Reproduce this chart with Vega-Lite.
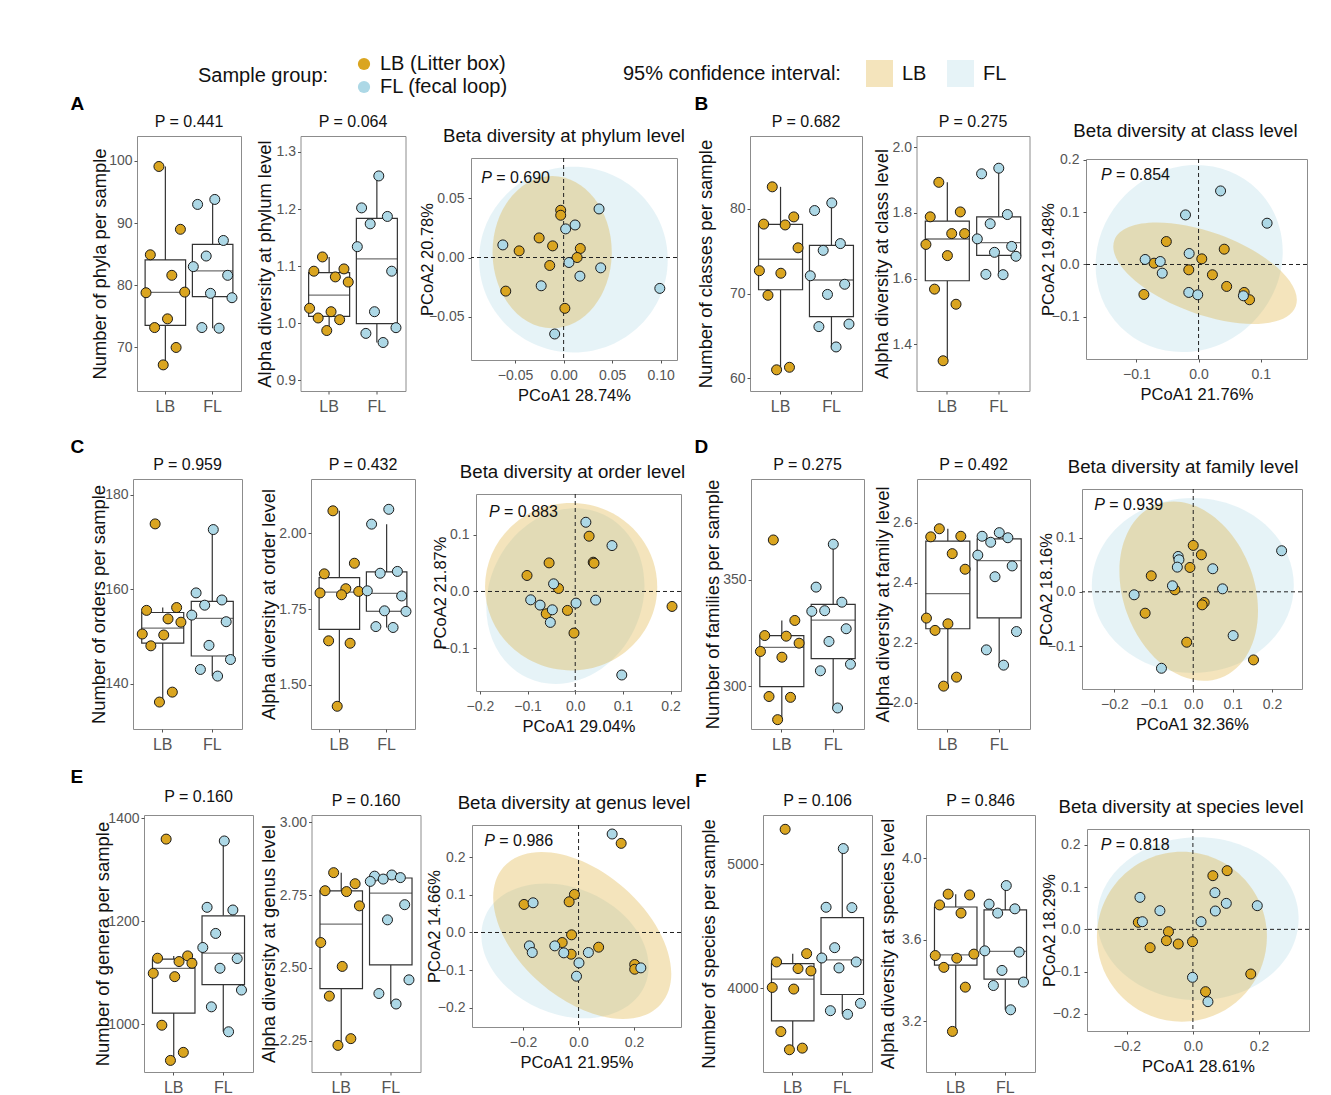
{
"$schema": "https://vega.github.io/schema/vega-lite/v6.json",
"background": "white",
"padding": {"left": 69, "top": 54, "right": 5, "bottom": 5},
"config": {
  "font": "Liberation Sans",
  "view": {"stroke": "#8c8c8c", "strokeWidth": 1},
  "axis": {"grid": false, "domain": false, "tickSize": 3, "tickColor": "#555", "labelColor": "#555", "labelFontSize": 14, "labelPadding": 2, "titleFontWeight": "normal", "titleColor": "#111", "titlePadding": 0},
  "title": {"fontWeight": "normal", "fontSize": 16, "color": "#111"},
  "legend": {"titleFontWeight": "normal", "titleColor": "#111", "labelColor": "#111", "titleLimit": 400, "labelLimit": 400}
},
"datasets": {
  "a1": [{"g":"LB","s":4,"v":99.1},{"g":"LB","s":9,"v":89.0},{"g":"LB","s":2,"v":84.9},{"g":"LB","s":7,"v":81.6},{"g":"LB","s":10,"v":78.9},{"g":"LB","s":1,"v":78.8},{"g":"LB","s":6,"v":74.6},{"g":"LB","s":3,"v":73.2},{"g":"LB","s":8,"v":70.0},{"g":"LB","s":5,"v":67.2},
         {"g":"FL","s":6,"v":93.8},{"g":"FL","s":2,"v":93.0},{"g":"FL","s":8,"v":87.2},{"g":"FL","s":4,"v":84.7},{"g":"FL","s":1,"v":83.0},{"g":"FL","s":9,"v":81.6},{"g":"FL","s":5,"v":78.7},{"g":"FL","s":10,"v":78.0},{"g":"FL","s":3,"v":73.2},{"g":"FL","s":7,"v":73.1}],
  "a2": [{"g":"LB","s":4,"v":1.116},{"g":"LB","s":9,"v":1.095},{"g":"LB","s":2,"v":1.091},{"g":"LB","s":7,"v":1.081},{"g":"LB","s":10,"v":1.072},{"g":"LB","s":1,"v":1.026},{"g":"LB","s":6,"v":1.020},{"g":"LB","s":3,"v":1.009},{"g":"LB","s":8,"v":1.006},{"g":"LB","s":5,"v":0.987},
         {"g":"FL","s":6,"v":1.258},{"g":"FL","s":2,"v":1.202},{"g":"FL","s":8,"v":1.187},{"g":"FL","s":4,"v":1.174},{"g":"FL","s":1,"v":1.134},{"g":"FL","s":9,"v":1.091},{"g":"FL","s":5,"v":1.020},{"g":"FL","s":10,"v":0.992},{"g":"FL","s":3,"v":0.982},{"g":"FL","s":7,"v":0.966}],
  "b1": [{"g":"LB","s":4,"v":82.6},{"g":"LB","s":9,"v":79.05},{"g":"LB","s":2,"v":78.2},{"g":"LB","s":7,"v":78.1},{"g":"LB","s":10,"v":75.4},{"g":"LB","s":1,"v":72.7},{"g":"LB","s":6,"v":72.4},{"g":"LB","s":3,"v":69.8},{"g":"LB","s":8,"v":61.3},{"g":"LB","s":5,"v":61.0},
         {"g":"FL","s":6,"v":80.7},{"g":"FL","s":2,"v":79.8},{"g":"FL","s":8,"v":75.9},{"g":"FL","s":4,"v":75.1},{"g":"FL","s":1,"v":72.1},{"g":"FL","s":9,"v":71.1},{"g":"FL","s":5,"v":69.9},{"g":"FL","s":10,"v":66.4},{"g":"FL","s":3,"v":66.1},{"g":"FL","s":7,"v":63.7}],
  "b2": [{"g":"LB","s":4,"v":1.893},{"g":"LB","s":9,"v":1.803},{"g":"LB","s":2,"v":1.788},{"g":"LB","s":7,"v":1.737},{"g":"LB","s":10,"v":1.737},{"g":"LB","s":1,"v":1.704},{"g":"LB","s":6,"v":1.670},{"g":"LB","s":3,"v":1.568},{"g":"LB","s":8,"v":1.522},{"g":"LB","s":5,"v":1.350},
         {"g":"FL","s":6,"v":1.936},{"g":"FL","s":2,"v":1.919},{"g":"FL","s":8,"v":1.795},{"g":"FL","s":4,"v":1.767},{"g":"FL","s":1,"v":1.721},{"g":"FL","s":9,"v":1.698},{"g":"FL","s":5,"v":1.680},{"g":"FL","s":10,"v":1.668},{"g":"FL","s":3,"v":1.613},{"g":"FL","s":7,"v":1.612}],
  "c1": [{"g":"LB","s":4,"v":173.8},{"g":"LB","s":9,"v":156.1},{"g":"LB","s":2,"v":155.5},{"g":"LB","s":7,"v":153.7},{"g":"LB","s":10,"v":153.0},{"g":"LB","s":1,"v":150.5},{"g":"LB","s":6,"v":150.3},{"g":"LB","s":3,"v":148.0},{"g":"LB","s":8,"v":138.2},{"g":"LB","s":5,"v":136.1},
         {"g":"FL","s":6,"v":172.6},{"g":"FL","s":2,"v":159.2},{"g":"FL","s":8,"v":157.7},{"g":"FL","s":4,"v":156.6},{"g":"FL","s":1,"v":154.5},{"g":"FL","s":9,"v":153.1},{"g":"FL","s":5,"v":148.1},{"g":"FL","s":10,"v":145.1},{"g":"FL","s":3,"v":143.0},{"g":"FL","s":7,"v":141.6}],
  "c2": [{"g":"LB","s":4,"v":2.074},{"g":"LB","s":9,"v":1.901},{"g":"LB","s":2,"v":1.866},{"g":"LB","s":7,"v":1.817},{"g":"LB","s":10,"v":1.808},{"g":"LB","s":1,"v":1.803},{"g":"LB","s":6,"v":1.797},{"g":"LB","s":3,"v":1.645},{"g":"LB","s":8,"v":1.637},{"g":"LB","s":5,"v":1.429},
         {"g":"FL","s":6,"v":2.079},{"g":"FL","s":2,"v":2.030},{"g":"FL","s":8,"v":1.874},{"g":"FL","s":4,"v":1.868},{"g":"FL","s":1,"v":1.810},{"g":"FL","s":9,"v":1.793},{"g":"FL","s":5,"v":1.744},{"g":"FL","s":10,"v":1.742},{"g":"FL","s":3,"v":1.692},{"g":"FL","s":7,"v":1.689}],
  "d1": [{"g":"LB","s":4,"v":368.8},{"g":"LB","s":9,"v":330.9},{"g":"LB","s":2,"v":323.8},{"g":"LB","s":7,"v":323.5},{"g":"LB","s":10,"v":320.2},{"g":"LB","s":1,"v":316.3},{"g":"LB","s":6,"v":313.6},{"g":"LB","s":3,"v":295.1},{"g":"LB","s":8,"v":294.7},{"g":"LB","s":5,"v":284.2},
         {"g":"FL","s":6,"v":366.8},{"g":"FL","s":2,"v":346.6},{"g":"FL","s":8,"v":339.5},{"g":"FL","s":4,"v":335.5},{"g":"FL","s":1,"v":335.2},{"g":"FL","s":9,"v":327.0},{"g":"FL","s":5,"v":321.0},{"g":"FL","s":10,"v":310.3},{"g":"FL","s":3,"v":307.2},{"g":"FL","s":7,"v":289.7}],
  "d2": [{"g":"LB","s":4,"v":2.580},{"g":"LB","s":9,"v":2.555},{"g":"LB","s":2,"v":2.553},{"g":"LB","s":7,"v":2.497},{"g":"LB","s":10,"v":2.445},{"g":"LB","s":1,"v":2.282},{"g":"LB","s":6,"v":2.263},{"g":"LB","s":3,"v":2.241},{"g":"LB","s":8,"v":2.085},{"g":"LB","s":5,"v":2.055},
         {"g":"FL","s":6,"v":2.567},{"g":"FL","s":2,"v":2.555},{"g":"FL","s":8,"v":2.550},{"g":"FL","s":4,"v":2.535},{"g":"FL","s":1,"v":2.492},{"g":"FL","s":9,"v":2.456},{"g":"FL","s":5,"v":2.420},{"g":"FL","s":10,"v":2.237},{"g":"FL","s":3,"v":2.176},{"g":"FL","s":7,"v":2.125}],
  "e1": [{"g":"LB","s":4,"v":1359.7},{"g":"LB","s":9,"v":1133.0},{"g":"LB","s":2,"v":1128.5},{"g":"LB","s":7,"v":1122.0},{"g":"LB","s":10,"v":1118.7},{"g":"LB","s":1,"v":1099.2},{"g":"LB","s":6,"v":1092.7},{"g":"LB","s":3,"v":998.4},{"g":"LB","s":8,"v":945.7},{"g":"LB","s":5,"v":930.1},
         {"g":"FL","s":6,"v":1356.1},{"g":"FL","s":2,"v":1227.3},{"g":"FL","s":8,"v":1222.1},{"g":"FL","s":4,"v":1176.6},{"g":"FL","s":1,"v":1149.3},{"g":"FL","s":9,"v":1127.8},{"g":"FL","s":5,"v":1109.0},{"g":"FL","s":10,"v":1066.7},{"g":"FL","s":3,"v":1034.1},{"g":"FL","s":7,"v":985.7}],
  "e2": [{"g":"LB","s":4,"v":2.827},{"g":"LB","s":9,"v":2.789},{"g":"LB","s":2,"v":2.765},{"g":"LB","s":7,"v":2.762},{"g":"LB","s":10,"v":2.713},{"g":"LB","s":1,"v":2.587},{"g":"LB","s":6,"v":2.505},{"g":"LB","s":3,"v":2.403},{"g":"LB","s":8,"v":2.257},{"g":"LB","s":5,"v":2.234},
         {"g":"FL","s":6,"v":2.819},{"g":"FL","s":2,"v":2.815},{"g":"FL","s":8,"v":2.810},{"g":"FL","s":4,"v":2.805},{"g":"FL","s":1,"v":2.797},{"g":"FL","s":9,"v":2.717},{"g":"FL","s":5,"v":2.665},{"g":"FL","s":10,"v":2.459},{"g":"FL","s":3,"v":2.412},{"g":"FL","s":7,"v":2.376}],
  "f1": [{"g":"LB","s":4,"v":5280},{"g":"LB","s":9,"v":4280},{"g":"LB","s":2,"v":4213},{"g":"LB","s":7,"v":4160},{"g":"LB","s":10,"v":4141},{"g":"LB","s":1,"v":4008},{"g":"LB","s":6,"v":3995},{"g":"LB","s":3,"v":3653},{"g":"LB","s":8,"v":3520},{"g":"LB","s":5,"v":3507},
         {"g":"FL","s":6,"v":5125},{"g":"FL","s":2,"v":4653},{"g":"FL","s":8,"v":4650},{"g":"FL","s":4,"v":4328},{"g":"FL","s":1,"v":4245},{"g":"FL","s":9,"v":4213},{"g":"FL","s":5,"v":4165},{"g":"FL","s":10,"v":3880},{"g":"FL","s":3,"v":3821},{"g":"FL","s":7,"v":3792}],
  "f2": [{"g":"LB","s":4,"v":3.824},{"g":"LB","s":9,"v":3.820},{"g":"LB","s":2,"v":3.771},{"g":"LB","s":7,"v":3.731},{"g":"LB","s":10,"v":3.530},{"g":"LB","s":1,"v":3.523},{"g":"LB","s":6,"v":3.510},{"g":"LB","s":3,"v":3.465},{"g":"LB","s":8,"v":3.368},{"g":"LB","s":5,"v":3.151},
         {"g":"FL","s":6,"v":3.866},{"g":"FL","s":2,"v":3.775},{"g":"FL","s":8,"v":3.752},{"g":"FL","s":4,"v":3.731},{"g":"FL","s":1,"v":3.546},{"g":"FL","s":9,"v":3.540},{"g":"FL","s":5,"v":3.450},{"g":"FL","s":10,"v":3.393},{"g":"FL","s":3,"v":3.376},{"g":"FL","s":7,"v":3.257}],
  "a3": [{"g":"LB","x":-0.003,"y":0.0398},{"g":"LB","x":-0.003,"y":0.0356},{"g":"LB","x":-0.0252,"y":0.0165},{"g":"LB","x":-0.0113,"y":0.0098},{"g":"LB","x":0.0172,"y":0.0076},{"g":"LB","x":-0.0458,"y":0.0056},{"g":"LB","x":0.0139,"y":0.0},{"g":"LB","x":-0.0143,"y":-0.0067},{"g":"LB","x":-0.0596,"y":-0.0283},{"g":"LB","x":0.0013,"y":-0.0428},
         {"g":"FL","x":0.0365,"y":0.0409},{"g":"FL","x":0.0118,"y":0.0274},{"g":"FL","x":0.0021,"y":0.0241},{"g":"FL","x":-0.0626,"y":0.0106},{"g":"FL","x":0.0055,"y":-0.0042},{"g":"FL","x":0.0382,"y":-0.0087},{"g":"FL","x":0.0168,"y":-0.0157},{"g":"FL","x":-0.0231,"y":-0.0238},{"g":"FL","x":0.0991,"y":-0.026},{"g":"FL","x":-0.0092,"y":-0.0644}],
  "a3e": [{"g":"FL","x":0.0101,"y":-0.0018},{"g":"LB","x":-0.0118,"y":0.0045}],
  "b3": [{"g":"LB","x":-0.0518,"y":0.0439},{"g":"LB","x":0.0413,"y":0.0293},{"g":"LB","x":0.0052,"y":0.0108},{"g":"LB","x":-0.0715,"y":0.0025},{"g":"LB","x":-0.0157,"y":-0.0102},{"g":"LB","x":0.0223,"y":-0.0197},{"g":"LB","x":0.0452,"y":-0.042},{"g":"LB","x":-0.0879,"y":-0.0573},{"g":"LB","x":0.0734,"y":-0.0535},{"g":"LB","x":0.082,"y":-0.0675},
         {"g":"FL","x":0.0354,"y":0.1408},{"g":"FL","x":-0.021,"y":0.0949},{"g":"FL","x":0.1102,"y":0.079},{"g":"FL","x":-0.0151,"y":0.021},{"g":"FL","x":-0.0859,"y":0.0096},{"g":"FL","x":-0.0616,"y":0.0057},{"g":"FL","x":-0.0584,"y":-0.0166},{"g":"FL","x":-0.0157,"y":-0.0535},{"g":"FL","x":-0.0013,"y":-0.058},{"g":"FL","x":0.0721,"y":-0.0599}],
  "b3e": [{"g":"FL","x":-0.0151,"y":0.0115},{"g":"LB","x":0.0105,"y":-0.0166}],
  "c3": [{"g":"LB","x":0.0291,"y":0.0974},{"g":"LB","x":-0.0548,"y":0.0504},{"g":"LB","x":0.0377,"y":0.0516},{"g":"LB","x":0.0394,"y":0.0499},{"g":"LB","x":-0.1011,"y":0.0282},{"g":"LB","x":-0.0351,"y":0.0053},{"g":"LB","x":-0.0163,"y":-0.0334},{"g":"LB","x":-0.0608,"y":-0.0393},{"g":"LB","x":-0.0026,"y":-0.0733},{"g":"LB","x":0.203,"y":-0.0264},
         {"g":"FL","x":0.0223,"y":0.122},{"g":"FL","x":0.0771,"y":0.0809},{"g":"FL","x":-0.0454,"y":0.0135},{"g":"FL","x":-0.0934,"y":-0.0147},{"g":"FL","x":-0.0737,"y":-0.024},{"g":"FL","x":0.0017,"y":-0.0205},{"g":"FL","x":0.0428,"y":-0.0152},{"g":"FL","x":-0.048,"y":-0.0323},{"g":"FL","x":-0.0522,"y":-0.0545},{"g":"FL","x":0.0976,"y":-0.1472}],
  "c3e": [{"g":"FL","x":-0.0206,"y":-0.0082},{"g":"LB","x":-0.0086,"y":0.0085}],
  "d3": [{"g":"LB","x":0.0,"y":0.0855},{"g":"LB","x":0.0207,"y":0.0683},{"g":"LB","x":-0.0083,"y":0.0449},{"g":"LB","x":-0.1065,"y":0.0295},{"g":"LB","x":-0.0465,"y":0.0037},{"g":"LB","x":0.0279,"y":-0.0197},{"g":"LB","x":0.0227,"y":-0.024},{"g":"LB","x":-0.122,"y":-0.0394},{"g":"LB","x":-0.0165,"y":-0.0929},{"g":"LB","x":0.153,"y":-0.1255},
         {"g":"FL","x":0.2243,"y":0.0757},{"g":"FL","x":-0.0382,"y":0.0652},{"g":"FL","x":-0.0362,"y":0.0591},{"g":"FL","x":-0.0403,"y":0.0455},{"g":"FL","x":0.0496,"y":0.0425},{"g":"FL","x":-0.0527,"y":0.0111},{"g":"FL","x":0.0744,"y":0.0055},{"g":"FL","x":-0.1499,"y":-0.0055},{"g":"FL","x":0.1013,"y":-0.0806},{"g":"FL","x":-0.0806,"y":-0.1409}],
  "d3e": [{"g":"FL","x":-0.001,"y":0.0117},{"g":"LB","x":-0.0114,"y":0.0012}],
  "e3": [{"g":"LB","x":0.1535,"y":0.2373},{"g":"LB","x":-0.0148,"y":0.1013},{"g":"LB","x":-0.0339,"y":0.0818},{"g":"LB","x":-0.1963,"y":0.0747},{"g":"LB","x":-0.0251,"y":-0.0062},{"g":"LB","x":-0.059,"y":-0.0267},{"g":"LB","x":-0.0266,"y":-0.0578},{"g":"LB","x":0.0723,"y":-0.0391},{"g":"LB","x":0.2022,"y":-0.0853},{"g":"LB","x":0.2022,"y":-0.0978},
         {"g":"FL","x":0.121,"y":0.2622},{"g":"FL","x":-0.1638,"y":0.0791},{"g":"FL","x":-0.1771,"y":-0.0356},{"g":"FL","x":-0.1668,"y":-0.0533},{"g":"FL","x":-0.0856,"y":-0.0356},{"g":"FL","x":-0.0531,"y":-0.0542},{"g":"FL","x":0.0354,"y":-0.0533},{"g":"FL","x":0.0015,"y":-0.0809},{"g":"FL","x":-0.0074,"y":-0.1164},{"g":"FL","x":0.2244,"y":-0.0942}],
  "e3e": [{"g":"FL","x":-0.0487,"y":-0.0489},{"g":"LB","x":0.0133,"y":-0.008}],
  "f3": [{"g":"LB","x":0.1034,"y":0.1389},{"g":"LB","x":0.0603,"y":0.127},{"g":"LB","x":-0.1649,"y":0.0166},{"g":"LB","x":-0.0738,"y":-0.0055},{"g":"LB","x":-0.08,"y":-0.0268},{"g":"LB","x":-0.0443,"y":-0.0347},{"g":"LB","x":-0.0012,"y":-0.0292},{"g":"LB","x":-0.1292,"y":-0.0434},{"g":"LB","x":0.1748,"y":-0.1057},{"g":"LB","x":0.0382,"y":-0.1475},
         {"g":"FL","x":-0.16,"y":0.0757},{"g":"FL","x":-0.0997,"y":0.0442},{"g":"FL","x":-0.1526,"y":0.0181},{"g":"FL","x":0.0665,"y":0.0868},{"g":"FL","x":0.1009,"y":0.0615},{"g":"FL","x":0.1945,"y":0.056},{"g":"FL","x":0.0677,"y":0.0434},{"g":"FL","x":0.0246,"y":0.0181},{"g":"FL","x":-0.0012,"y":-0.1136},{"g":"FL","x":0.0455,"y":-0.1712}],
  "f3e": [{"g":"FL","x":0.0148,"y":0.0252},{"g":"LB","x":-0.0332,"y":-0.0174}]
},
"spacing": 22,
"vconcat": [
 {"spacing": 0, "hconcat": [
  {"width": 1, "height": 1, "data": {"values": []}, "mark": "point", "view": {"stroke": null}},
  {"spacing": 8, "hconcat": [
  {"title": {"text": "A", "anchor": "start", "fontSize": 19, "fontWeight": "bold", "color": "#000", "offset": 0, "dx": -19.5},
   "spacing": 11.5,
   "hconcat": [
    {"width": 104, "height": 255, "title": {"text": "P = 0.441", "offset": 6}, "data": {"name": "a1"},
     "layer": [
      {"mark": {"type": "boxplot", "extent": 1.5, "outliers": false, "ticks": false, "size": 40.5, "box": {"fill": "white", "stroke": "#333", "strokeWidth": 1.2}, "median": {"color": "#333", "thickness": 1.3}, "rule": {"color": "#333", "strokeWidth": 1.2}},
       "encoding": {"x": {"field": "g", "type": "nominal", "scale": {"domain": ["LB","FL"], "paddingInner": 0, "paddingOuter": 0.1}, "axis": {"title": null, "labelAngle": 0, "labelFontSize": 16, "labelPadding": 4}},
                    "y": {"field": "v", "type": "quantitative", "scale": {"domain": [63, 104], "nice": false, "zero": false}, "axis": {"title": "Number of phyla per sample", "titleFontSize": 18.4, "values": [70,80,90,100], "format": "d", "minExtent": 27.5, "maxExtent": 27.5}}}},
      {"mark": {"type": "point", "filled": true, "size": 100, "opacity": 1, "stroke": "#1a1a1a", "strokeWidth": 1},
       "encoding": {"x": {"field": "g", "type": "nominal", "scale": {"domain": ["LB","FL"], "paddingInner": 0, "paddingOuter": 0.1}},
                    "xOffset": {"field": "s", "type": "ordinal", "scale": {"paddingInner": 0, "paddingOuter": 8}},
                    "y": {"field": "v", "type": "quantitative", "scale": {"domain": [63, 104], "nice": false, "zero": false}},
                    "fill": {"field": "g", "type": "nominal", "scale": {"domain": ["LB","FL"], "range": ["#DAA520","#ADD8E6"]},
                             "legend": {"title": "Sample group:", "orient": "none", "legendX": 129, "legendY": -82, "direction": "vertical", "titleOrient": "left", "titleAnchor": "middle", "titleBaseline": "middle", "titleFontSize": 20, "titlePadding": 25, "labelFontSize": 20, "labelOffset": 6, "rowPadding": 3, "symbolType": "circle", "symbolSize": 150, "symbolStrokeWidth": 0, "symbolOpacity": 1, "labelExpr": "datum.label == 'LB' ? 'LB (Litter box)' : 'FL (fecal loop)'"}}}}
     ]},
    {"width": 105, "height": 255, "title": {"text": "P = 0.064", "offset": 6}, "data": {"name": "a2"},
     "layer": [
      {"mark": {"type": "boxplot", "extent": 1.5, "outliers": false, "ticks": false, "size": 41, "box": {"fill": "white", "stroke": "#333", "strokeWidth": 1.2}, "median": {"color": "#333", "thickness": 1.3}, "rule": {"color": "#333", "strokeWidth": 1.2}},
       "encoding": {"x": {"field": "g", "type": "nominal", "scale": {"domain": ["LB","FL"], "paddingInner": 0, "paddingOuter": 0.1}, "axis": {"title": null, "labelAngle": 0, "labelFontSize": 16, "labelPadding": 4}},
                    "y": {"field": "v", "type": "quantitative", "scale": {"domain": [0.881, 1.328], "nice": false, "zero": false}, "axis": {"title": "Alpha diversity at phylum level", "titleFontSize": 18.4, "values": [0.9,1.0,1.1,1.2,1.3], "format": ".1f", "minExtent": 26.5, "maxExtent": 26.5}}}},
      {"mark": {"type": "point", "filled": true, "size": 100, "opacity": 1, "stroke": "#1a1a1a", "strokeWidth": 1},
       "encoding": {"x": {"field": "g", "type": "nominal", "scale": {"domain": ["LB","FL"], "paddingInner": 0, "paddingOuter": 0.1}},
                    "xOffset": {"field": "s", "type": "ordinal", "scale": {"paddingInner": 0, "paddingOuter": 8}},
                    "y": {"field": "v", "type": "quantitative", "scale": {"domain": [0.881, 1.328], "nice": false, "zero": false}},
                    "fill": {"field": "g", "type": "nominal", "scale": {"domain": ["LB","FL"], "range": ["#DAA520","#ADD8E6"]}}}}
     ]},
    {"spacing": 21, "bounds": "flush", "vconcat": [
     {"width": 10, "height": 1, "data": {"values": []}, "mark": "point", "view": {"stroke": null}},
     {"width": 206, "height": 202, "title": {"text": "Beta diversity at phylum level", "fontSize": 18.7, "offset": 12, "dx": -10},
      "layer": [
       {"data": {"name": "a3e"}, "transform": [{"filter": "datum.g == 'FL'"}],
        "mark": {"type": "point", "shape": "M-1,0A1,0.984,0,1,0,1,0A1,0.984,0,1,0,-1,0Z", "size": 35570, "angle": 0, "filled": true, "opacity": 0.3, "strokeWidth": 0},
        "encoding": {"x": {"field": "x", "type": "quantitative", "scale": {"domain": [-0.0954, 0.1168], "nice": false, "zero": false}},
                     "y": {"field": "y", "type": "quantitative", "scale": {"domain": [-0.0863, 0.0838], "nice": false, "zero": false}},
                     "color": {"field": "g", "type": "nominal", "sort": "descending", "scale": {"range": ["#DAA520","#ADD8E6"]},
                               "legend": {"title": "95% confidence interval:", "orient": "none", "legendX": 554, "legendY": -76, "direction": "horizontal", "titleOrient": "left", "titleAnchor": "middle", "titleBaseline": "middle", "titleFontSize": 20, "titlePadding": 25, "labelFontSize": 20, "labelOffset": 9, "columnPadding": 20, "symbolType": "square", "symbolSize": 729, "symbolOpacity": 0.3, "symbolStrokeWidth": 0}}}},
       {"data": {"name": "a3e"}, "transform": [{"filter": "datum.g == 'LB'"}],
        "mark": {"type": "point", "shape": "M-1,0A1,1.2785,0,1,0,1,0A1,1.2785,0,1,0,-1,0Z", "size": 14209, "angle": 0, "filled": true, "opacity": 0.3, "strokeWidth": 0},
        "encoding": {"x": {"field": "x", "type": "quantitative", "scale": {"domain": [-0.0954, 0.1168], "nice": false, "zero": false}},
                     "y": {"field": "y", "type": "quantitative", "scale": {"domain": [-0.0863, 0.0838], "nice": false, "zero": false}},
                     "color": {"field": "g", "type": "nominal", "sort": "descending", "scale": {"range": ["#DAA520","#ADD8E6"]}}}},
       {"data": {"values": [{}]}, "mark": {"type": "rule", "strokeDash": [4,3], "color": "#222", "strokeWidth": 1},
        "encoding": {"x": {"datum": 0, "type": "quantitative", "scale": {"domain": [-0.0954, 0.1168], "nice": false, "zero": false}}}},
       {"data": {"values": [{}]}, "mark": {"type": "rule", "strokeDash": [4,3], "color": "#222", "strokeWidth": 1},
        "encoding": {"y": {"datum": 0, "type": "quantitative", "scale": {"domain": [-0.0863, 0.0838], "nice": false, "zero": false}}}},
       {"data": {"name": "a3"}, "mark": {"type": "point", "filled": true, "size": 100, "opacity": 1, "stroke": "#1a1a1a", "strokeWidth": 1},
        "encoding": {"x": {"field": "x", "type": "quantitative", "scale": {"domain": [-0.0954, 0.1168], "nice": false, "zero": false}, "axis": {"title": "PCoA1 28.74%", "titleFontSize": 16.5, "titlePadding": 5, "labelPadding": 5, "values": [-0.05, 0, 0.05, 0.1], "format": ".2f"}},
                     "y": {"field": "y", "type": "quantitative", "scale": {"domain": [-0.0863, 0.0838], "nice": false, "zero": false}, "axis": {"title": "PCoA2 20.78%", "titleFontSize": 16.5, "labelPadding": 4, "values": [-0.05, 0, 0.05], "format": ".2f", "minExtent": 36, "maxExtent": 36}},
                     "fill": {"field": "g", "type": "nominal", "scale": {"domain": ["LB","FL"], "range": ["#DAA520","#ADD8E6"]}}}},
       {"data": {"values": [{}]}, "mark": {"type": "text", "text": "P", "fontStyle": "italic", "fontSize": 16, "align": "left", "baseline": "middle", "color": "#111"},
        "encoding": {"x": {"datum": -0.0849, "type": "quantitative"}, "y": {"datum": 0.0672, "type": "quantitative"}}},
       {"data": {"values": [{}]}, "mark": {"type": "text", "text": "= 0.690", "fontSize": 16, "align": "left", "baseline": "middle", "color": "#111", "dx": 15},
        "encoding": {"x": {"datum": -0.0849, "type": "quantitative"}, "y": {"datum": 0.0672, "type": "quantitative"}}}
      ]}
    ]}
   ]},
  {"title": {"text": "B", "anchor": "start", "fontSize": 19, "fontWeight": "bold", "color": "#000", "offset": 0, "dx": -1},
   "spacing": 8.5,
   "hconcat": [
    {"width": 112, "height": 255, "title": {"text": "P = 0.682", "offset": 6}, "data": {"name": "b1"},
     "layer": [
      {"mark": {"type": "boxplot", "extent": 1.5, "outliers": false, "ticks": false, "size": 44, "box": {"fill": "white", "stroke": "#333", "strokeWidth": 1.2}, "median": {"color": "#333", "thickness": 1.3}, "rule": {"color": "#333", "strokeWidth": 1.2}},
       "encoding": {"x": {"field": "g", "type": "nominal", "scale": {"domain": ["LB","FL"], "paddingInner": 0, "paddingOuter": 0.1}, "axis": {"title": null, "labelAngle": 0, "labelFontSize": 16, "labelPadding": 4}},
                    "y": {"field": "v", "type": "quantitative", "scale": {"domain": [58.5, 88.6], "nice": false, "zero": false}, "axis": {"title": "Number of classes per sample", "titleFontSize": 18.4, "values": [60,70,80], "format": "d", "minExtent": 35, "maxExtent": 35}}}},
      {"mark": {"type": "point", "filled": true, "size": 100, "opacity": 1, "stroke": "#1a1a1a", "strokeWidth": 1},
       "encoding": {"x": {"field": "g", "type": "nominal", "scale": {"domain": ["LB","FL"], "paddingInner": 0, "paddingOuter": 0.1}},
                    "xOffset": {"field": "s", "type": "ordinal", "scale": {"paddingInner": 0, "paddingOuter": 8}},
                    "y": {"field": "v", "type": "quantitative", "scale": {"domain": [58.5, 88.6], "nice": false, "zero": false}},
                    "fill": {"field": "g", "type": "nominal", "scale": {"domain": ["LB","FL"], "range": ["#DAA520","#ADD8E6"]}}}}
     ]},
    {"width": 113, "height": 255, "title": {"text": "P = 0.275", "offset": 6}, "data": {"name": "b2"},
     "layer": [
      {"mark": {"type": "boxplot", "extent": 1.5, "outliers": false, "ticks": false, "size": 44, "box": {"fill": "white", "stroke": "#333", "strokeWidth": 1.2}, "median": {"color": "#333", "thickness": 1.3}, "rule": {"color": "#333", "strokeWidth": 1.2}},
       "encoding": {"x": {"field": "g", "type": "nominal", "scale": {"domain": ["LB","FL"], "paddingInner": 0, "paddingOuter": 0.1}, "axis": {"title": null, "labelAngle": 0, "labelFontSize": 16, "labelPadding": 4}},
                    "y": {"field": "v", "type": "quantitative", "scale": {"domain": [1.258, 2.034], "nice": false, "zero": false}, "axis": {"title": "Alpha diversity at class level", "titleFontSize": 18.4, "values": [1.4,1.6,1.8,2.0], "format": ".1f", "minExtent": 25, "maxExtent": 25}}}},
      {"mark": {"type": "point", "filled": true, "size": 100, "opacity": 1, "stroke": "#1a1a1a", "strokeWidth": 1},
       "encoding": {"x": {"field": "g", "type": "nominal", "scale": {"domain": ["LB","FL"], "paddingInner": 0, "paddingOuter": 0.1}},
                    "xOffset": {"field": "s", "type": "ordinal", "scale": {"paddingInner": 0, "paddingOuter": 8}},
                    "y": {"field": "v", "type": "quantitative", "scale": {"domain": [1.258, 2.034], "nice": false, "zero": false}},
                    "fill": {"field": "g", "type": "nominal", "scale": {"domain": ["LB","FL"], "range": ["#DAA520","#ADD8E6"]}}}}
     ]},
    {"spacing": 22, "bounds": "flush", "vconcat": [
     {"width": 10, "height": 1, "data": {"values": []}, "mark": "point", "view": {"stroke": null}},
     {"width": 221, "height": 200, "title": {"text": "Beta diversity at class level", "fontSize": 18.7, "offset": 12, "dx": -11},
      "layer": [
       {"data": {"name": "b3e"}, "transform": [{"filter": "datum.g == 'FL'"}],
        "mark": {"type": "point", "shape": "M-1,0A1,0.928,0,1,0,1,0A1,0.928,0,1,0,-1,0Z", "size": 37636, "angle": -45, "filled": true, "opacity": 0.3, "strokeWidth": 0},
        "encoding": {"x": {"field": "x", "type": "quantitative", "scale": {"domain": [-0.181, 0.1744], "nice": false, "zero": false}},
                     "y": {"field": "y", "type": "quantitative", "scale": {"domain": [-0.1809, 0.2019], "nice": false, "zero": false}},
                     "color": {"field": "g", "type": "nominal", "sort": "descending", "scale": {"range": ["#DAA520","#ADD8E6"]}}}},
       {"data": {"name": "b3e"}, "transform": [{"filter": "datum.g == 'LB'"}],
        "mark": {"type": "point", "shape": "M-1,0A1,0.425,0,1,0,1,0A1,0.425,0,1,0,-1,0Z", "size": 37249, "angle": 20, "filled": true, "opacity": 0.3, "strokeWidth": 0},
        "encoding": {"x": {"field": "x", "type": "quantitative", "scale": {"domain": [-0.181, 0.1744], "nice": false, "zero": false}},
                     "y": {"field": "y", "type": "quantitative", "scale": {"domain": [-0.1809, 0.2019], "nice": false, "zero": false}},
                     "color": {"field": "g", "type": "nominal", "sort": "descending", "scale": {"range": ["#DAA520","#ADD8E6"]}}}},
       {"data": {"values": [{}]}, "mark": {"type": "rule", "strokeDash": [4,3], "color": "#222", "strokeWidth": 1},
        "encoding": {"x": {"datum": 0, "type": "quantitative", "scale": {"domain": [-0.181, 0.1744], "nice": false, "zero": false}}}},
       {"data": {"values": [{}]}, "mark": {"type": "rule", "strokeDash": [4,3], "color": "#222", "strokeWidth": 1},
        "encoding": {"y": {"datum": 0, "type": "quantitative", "scale": {"domain": [-0.1809, 0.2019], "nice": false, "zero": false}}}},
       {"data": {"name": "b3"}, "mark": {"type": "point", "filled": true, "size": 100, "opacity": 1, "stroke": "#1a1a1a", "strokeWidth": 1},
        "encoding": {"x": {"field": "x", "type": "quantitative", "scale": {"domain": [-0.181, 0.1744], "nice": false, "zero": false}, "axis": {"title": "PCoA1 21.76%", "titleFontSize": 16.5, "titlePadding": 5, "labelPadding": 5, "values": [-0.1, 0, 0.1], "format": ".1f"}},
                     "y": {"field": "y", "type": "quantitative", "scale": {"domain": [-0.1809, 0.2019], "nice": false, "zero": false}, "axis": {"title": "PCoA2 19.48%", "titleFontSize": 16.5, "labelPadding": 4, "values": [-0.1, 0, 0.1, 0.2], "format": ".1f", "minExtent": 30, "maxExtent": 30}},
                     "fill": {"field": "g", "type": "nominal", "scale": {"domain": ["LB","FL"], "range": ["#DAA520","#ADD8E6"]}}}},
       {"data": {"values": [{}]}, "mark": {"type": "text", "text": "P", "fontStyle": "italic", "fontSize": 16, "align": "left", "baseline": "middle", "color": "#111"},
        "encoding": {"x": {"datum": -0.1567, "type": "quantitative"}, "y": {"datum": 0.1707, "type": "quantitative"}}},
       {"data": {"values": [{}]}, "mark": {"type": "text", "text": "= 0.854", "fontSize": 16, "align": "left", "baseline": "middle", "color": "#111", "dx": 15},
        "encoding": {"x": {"datum": -0.1567, "type": "quantitative"}, "y": {"datum": 0.1707, "type": "quantitative"}}}
      ]}
    ]}
   ]}
  ]}
 ]},
 {"spacing": 14, "vconcat": [
  {"spacing": 0, "hconcat": [
   {"width": 1, "height": 1, "data": {"values": []}, "mark": "point", "view": {"stroke": null}},
   {"spacing": 8, "hconcat": [
   {"title": {"text": "C", "anchor": "start", "fontSize": 19, "fontWeight": "bold", "color": "#000", "offset": 0, "dx": -18.5},
    "spacing": 15,
    "hconcat": [
     {"width": 109, "height": 250, "title": {"text": "P = 0.959", "offset": 6}, "data": {"name": "c1"},
      "layer": [
       {"mark": {"type": "boxplot", "extent": 2, "outliers": false, "ticks": false, "size": 42, "box": {"fill": "white", "stroke": "#333", "strokeWidth": 1.2}, "median": {"color": "#333", "thickness": 1.3}, "rule": {"color": "#333", "strokeWidth": 1.2}},
        "encoding": {"x": {"field": "g", "type": "nominal", "scale": {"domain": ["LB","FL"], "paddingInner": 0, "paddingOuter": 0.1}, "axis": {"title": null, "labelAngle": 0, "labelFontSize": 16, "labelPadding": 4}},
                     "y": {"field": "v", "type": "quantitative", "scale": {"domain": [130.4, 183.3], "nice": false, "zero": false}, "axis": {"title": "Number of orders per sample", "titleFontSize": 18.4, "values": [140,160,180], "format": "d", "minExtent": 24.5, "maxExtent": 24.5}}}},
       {"mark": {"type": "point", "filled": true, "size": 100, "opacity": 1, "stroke": "#1a1a1a", "strokeWidth": 1},
        "encoding": {"x": {"field": "g", "type": "nominal", "scale": {"domain": ["LB","FL"], "paddingInner": 0, "paddingOuter": 0.1}},
                     "xOffset": {"field": "s", "type": "ordinal", "scale": {"paddingInner": 0, "paddingOuter": 8}},
                     "y": {"field": "v", "type": "quantitative", "scale": {"domain": [130.4, 183.3], "nice": false, "zero": false}},
                     "fill": {"field": "g", "type": "nominal", "scale": {"domain": ["LB","FL"], "range": ["#DAA520","#ADD8E6"]}}}}
      ]},
     {"width": 104, "height": 250, "title": {"text": "P = 0.432", "offset": 6}, "data": {"name": "c2"},
      "layer": [
       {"mark": {"type": "boxplot", "extent": 1.5, "outliers": false, "ticks": false, "size": 40.5, "box": {"fill": "white", "stroke": "#333", "strokeWidth": 1.2}, "median": {"color": "#333", "thickness": 1.3}, "rule": {"color": "#333", "strokeWidth": 1.2}},
        "encoding": {"x": {"field": "g", "type": "nominal", "scale": {"domain": ["LB","FL"], "paddingInner": 0, "paddingOuter": 0.1}, "axis": {"title": null, "labelAngle": 0, "labelFontSize": 16, "labelPadding": 4}},
                     "y": {"field": "v", "type": "quantitative", "scale": {"domain": [1.354, 2.179], "nice": false, "zero": false}, "axis": {"title": "Alpha diversity at order level", "titleFontSize": 18.4, "values": [1.5,1.75,2.0], "format": ".2f", "minExtent": 33, "maxExtent": 33}}}},
       {"mark": {"type": "point", "filled": true, "size": 100, "opacity": 1, "stroke": "#1a1a1a", "strokeWidth": 1},
        "encoding": {"x": {"field": "g", "type": "nominal", "scale": {"domain": ["LB","FL"], "paddingInner": 0, "paddingOuter": 0.1}},
                     "xOffset": {"field": "s", "type": "ordinal", "scale": {"paddingInner": 0, "paddingOuter": 8}},
                     "y": {"field": "v", "type": "quantitative", "scale": {"domain": [1.354, 2.179], "nice": false, "zero": false}},
                     "fill": {"field": "g", "type": "nominal", "scale": {"domain": ["LB","FL"], "range": ["#DAA520","#ADD8E6"]}}}}
      ]},
     {"spacing": 14, "bounds": "flush", "vconcat": [
      {"width": 10, "height": 1, "data": {"values": []}, "mark": "point", "view": {"stroke": null}},
      {"width": 205, "height": 197, "title": {"text": "Beta diversity at order level", "fontSize": 18.7, "offset": 12, "dx": -6},
       "layer": [
        {"data": {"name": "c3e"}, "transform": [{"filter": "datum.g == 'FL'"}],
         "mark": {"type": "point", "shape": "M-1,0A1,0.85,0,1,0,1,0A1,0.85,0,1,0,-1,0Z", "size": 32400, "angle": -65, "filled": true, "opacity": 0.3, "strokeWidth": 0},
         "encoding": {"x": {"field": "x", "type": "quantitative", "scale": {"domain": [-0.2081, 0.2218], "nice": false, "zero": false}},
                      "y": {"field": "y", "type": "quantitative", "scale": {"domain": [-0.1754, 0.1718], "nice": false, "zero": false}},
                      "color": {"field": "g", "type": "nominal", "sort": "descending", "scale": {"range": ["#DAA520","#ADD8E6"]}}}},
        {"data": {"name": "c3e"}, "transform": [{"filter": "datum.g == 'LB'"}],
         "mark": {"type": "point", "shape": "M-1,0A1,0.973,0,1,0,1,0A1,0.973,0,1,0,-1,0Z", "size": 29653, "angle": 0, "filled": true, "opacity": 0.3, "strokeWidth": 0},
         "encoding": {"x": {"field": "x", "type": "quantitative", "scale": {"domain": [-0.2081, 0.2218], "nice": false, "zero": false}},
                      "y": {"field": "y", "type": "quantitative", "scale": {"domain": [-0.1754, 0.1718], "nice": false, "zero": false}},
                      "color": {"field": "g", "type": "nominal", "sort": "descending", "scale": {"range": ["#DAA520","#ADD8E6"]}}}},
        {"data": {"values": [{}]}, "mark": {"type": "rule", "strokeDash": [4,3], "color": "#222", "strokeWidth": 1},
         "encoding": {"x": {"datum": 0, "type": "quantitative", "scale": {"domain": [-0.2081, 0.2218], "nice": false, "zero": false}}}},
        {"data": {"values": [{}]}, "mark": {"type": "rule", "strokeDash": [4,3], "color": "#222", "strokeWidth": 1},
         "encoding": {"y": {"datum": 0, "type": "quantitative", "scale": {"domain": [-0.1754, 0.1718], "nice": false, "zero": false}}}},
        {"data": {"name": "c3"}, "mark": {"type": "point", "filled": true, "size": 100, "opacity": 1, "stroke": "#1a1a1a", "strokeWidth": 1},
         "encoding": {"x": {"field": "x", "type": "quantitative", "scale": {"domain": [-0.2081, 0.2218], "nice": false, "zero": false}, "axis": {"title": "PCoA1 29.04%", "titleFontSize": 16.5, "titlePadding": 5, "labelPadding": 5, "values": [-0.2, -0.1, 0, 0.1, 0.2], "format": ".1f"}},
                      "y": {"field": "y", "type": "quantitative", "scale": {"domain": [-0.1754, 0.1718], "nice": false, "zero": false}, "axis": {"title": "PCoA2 21.87%", "titleFontSize": 16.5, "labelPadding": 4, "values": [-0.1, 0, 0.1], "format": ".1f", "minExtent": 28, "maxExtent": 28}},
                      "fill": {"field": "g", "type": "nominal", "scale": {"domain": ["LB","FL"], "range": ["#DAA520","#ADD8E6"]}}}},
        {"data": {"values": [{}]}, "mark": {"type": "text", "text": "P", "fontStyle": "italic", "fontSize": 16, "align": "left", "baseline": "middle", "color": "#111"},
         "encoding": {"x": {"datum": -0.1807, "type": "quantitative"}, "y": {"datum": 0.1402, "type": "quantitative"}}},
        {"data": {"values": [{}]}, "mark": {"type": "text", "text": "= 0.883", "fontSize": 16, "align": "left", "baseline": "middle", "color": "#111", "dx": 15},
         "encoding": {"x": {"datum": -0.1807, "type": "quantitative"}, "y": {"datum": 0.1402, "type": "quantitative"}}}
       ]}
     ]}
    ]},
   {"title": {"text": "D", "anchor": "start", "fontSize": 19, "fontWeight": "bold", "color": "#000", "offset": 0, "dx": -8},
    "spacing": 7,
    "hconcat": [
     {"width": 113, "height": 250, "title": {"text": "P = 0.275", "offset": 6}, "data": {"name": "d1"},
      "layer": [
       {"mark": {"type": "boxplot", "extent": 1.5, "outliers": false, "ticks": false, "size": 44, "box": {"fill": "white", "stroke": "#333", "strokeWidth": 1.2}, "median": {"color": "#333", "thickness": 1.3}, "rule": {"color": "#333", "strokeWidth": 1.2}},
        "encoding": {"x": {"field": "g", "type": "nominal", "scale": {"domain": ["LB","FL"], "paddingInner": 0, "paddingOuter": 0.1}, "axis": {"title": null, "labelAngle": 0, "labelFontSize": 16, "labelPadding": 4}},
                     "y": {"field": "v", "type": "quantitative", "scale": {"domain": [279.8, 397.5], "nice": false, "zero": false}, "axis": {"title": "Number of families per sample", "titleFontSize": 18.4, "values": [300,350], "format": "d", "minExtent": 29, "maxExtent": 29}}}},
       {"mark": {"type": "point", "filled": true, "size": 100, "opacity": 1, "stroke": "#1a1a1a", "strokeWidth": 1},
        "encoding": {"x": {"field": "g", "type": "nominal", "scale": {"domain": ["LB","FL"], "paddingInner": 0, "paddingOuter": 0.1}},
                     "xOffset": {"field": "s", "type": "ordinal", "scale": {"paddingInner": 0, "paddingOuter": 8}},
                     "y": {"field": "v", "type": "quantitative", "scale": {"domain": [279.8, 397.5], "nice": false, "zero": false}},
                     "fill": {"field": "g", "type": "nominal", "scale": {"domain": ["LB","FL"], "range": ["#DAA520","#ADD8E6"]}}}}
      ]},
     {"width": 113, "height": 250, "title": {"text": "P = 0.492", "offset": 6}, "data": {"name": "d2"},
      "layer": [
       {"mark": {"type": "boxplot", "extent": 1.5, "outliers": false, "ticks": false, "size": 44, "box": {"fill": "white", "stroke": "#333", "strokeWidth": 1.2}, "median": {"color": "#333", "thickness": 1.3}, "rule": {"color": "#333", "strokeWidth": 1.2}},
        "encoding": {"x": {"field": "g", "type": "nominal", "scale": {"domain": ["LB","FL"], "paddingInner": 0, "paddingOuter": 0.1}, "axis": {"title": null, "labelAngle": 0, "labelFontSize": 16, "labelPadding": 4}},
                     "y": {"field": "v", "type": "quantitative", "scale": {"domain": [1.912, 2.746], "nice": false, "zero": false}, "axis": {"title": "Alpha diversity at family level", "titleFontSize": 18.4, "values": [2.0,2.2,2.4,2.6], "format": ".1f", "minExtent": 24.5, "maxExtent": 24.5}}}},
       {"mark": {"type": "point", "filled": true, "size": 100, "opacity": 1, "stroke": "#1a1a1a", "strokeWidth": 1},
        "encoding": {"x": {"field": "g", "type": "nominal", "scale": {"domain": ["LB","FL"], "paddingInner": 0, "paddingOuter": 0.1}},
                     "xOffset": {"field": "s", "type": "ordinal", "scale": {"paddingInner": 0, "paddingOuter": 8}},
                     "y": {"field": "v", "type": "quantitative", "scale": {"domain": [1.912, 2.746], "nice": false, "zero": false}},
                     "fill": {"field": "g", "type": "nominal", "scale": {"domain": ["LB","FL"], "range": ["#DAA520","#ADD8E6"]}}}}
      ]},
     {"spacing": 9, "bounds": "flush", "vconcat": [
      {"width": 10, "height": 1, "data": {"values": []}, "mark": "point", "view": {"stroke": null}},
      {"width": 220, "height": 200, "title": {"text": "Beta diversity at family level", "fontSize": 18.7, "offset": 12, "dx": -9},
       "layer": [
        {"data": {"name": "d3e"}, "transform": [{"filter": "datum.g == 'FL'"}],
         "mark": {"type": "point", "shape": "M-1,0A1,0.866,0,1,0,1,0A1,0.866,0,1,0,-1,0Z", "size": 40804, "angle": 0, "filled": true, "opacity": 0.3, "strokeWidth": 0},
         "encoding": {"x": {"field": "x", "type": "quantitative", "scale": {"domain": [-0.2822, 0.276], "nice": false, "zero": false}},
                      "y": {"field": "y", "type": "quantitative", "scale": {"domain": [-0.1791, 0.1895], "nice": false, "zero": false}},
                      "color": {"field": "g", "type": "nominal", "sort": "descending", "scale": {"range": ["#DAA520","#ADD8E6"]}}}},
        {"data": {"name": "d3e"}, "transform": [{"filter": "datum.g == 'LB'"}],
         "mark": {"type": "point", "shape": "M-1,0A1,0.71,0,1,0,1,0A1,0.71,0,1,0,-1,0Z", "size": 34151, "angle": 70, "filled": true, "opacity": 0.3, "strokeWidth": 0},
         "encoding": {"x": {"field": "x", "type": "quantitative", "scale": {"domain": [-0.2822, 0.276], "nice": false, "zero": false}},
                      "y": {"field": "y", "type": "quantitative", "scale": {"domain": [-0.1791, 0.1895], "nice": false, "zero": false}},
                      "color": {"field": "g", "type": "nominal", "sort": "descending", "scale": {"range": ["#DAA520","#ADD8E6"]}}}},
        {"data": {"values": [{}]}, "mark": {"type": "rule", "strokeDash": [4,3], "color": "#222", "strokeWidth": 1},
         "encoding": {"x": {"datum": 0, "type": "quantitative", "scale": {"domain": [-0.2822, 0.276], "nice": false, "zero": false}}}},
        {"data": {"values": [{}]}, "mark": {"type": "rule", "strokeDash": [4,3], "color": "#222", "strokeWidth": 1},
         "encoding": {"y": {"datum": 0, "type": "quantitative", "scale": {"domain": [-0.1791, 0.1895], "nice": false, "zero": false}}}},
        {"data": {"name": "d3"}, "mark": {"type": "point", "filled": true, "size": 100, "opacity": 1, "stroke": "#1a1a1a", "strokeWidth": 1},
         "encoding": {"x": {"field": "x", "type": "quantitative", "scale": {"domain": [-0.2822, 0.276], "nice": false, "zero": false}, "axis": {"title": "PCoA1 32.36%", "titleFontSize": 16.5, "titlePadding": 5, "labelPadding": 5, "values": [-0.2, -0.1, 0, 0.1, 0.2], "format": ".1f"}},
                      "y": {"field": "y", "type": "quantitative", "scale": {"domain": [-0.1791, 0.1895], "nice": false, "zero": false}, "axis": {"title": "PCoA2 18.16%", "titleFontSize": 16.5, "labelPadding": 4, "values": [-0.1, 0, 0.1], "format": ".1f", "minExtent": 27.5, "maxExtent": 27.5}},
                      "fill": {"field": "g", "type": "nominal", "scale": {"domain": ["LB","FL"], "range": ["#DAA520","#ADD8E6"]}}}},
        {"data": {"values": [{}]}, "mark": {"type": "text", "text": "P", "fontStyle": "italic", "fontSize": 16, "align": "left", "baseline": "middle", "color": "#111"},
         "encoding": {"x": {"datum": -0.2512, "type": "quantitative"}, "y": {"datum": 0.1606, "type": "quantitative"}}},
        {"data": {"values": [{}]}, "mark": {"type": "text", "text": "= 0.939", "fontSize": 16, "align": "left", "baseline": "middle", "color": "#111", "dx": 15},
         "encoding": {"x": {"datum": -0.2512, "type": "quantitative"}, "y": {"datum": 0.1606, "type": "quantitative"}}}
       ]}
     ]}
    ]}
   ]}
  ]},
  {"spacing": 0, "hconcat": [
   {"width": 1, "height": 1, "data": {"values": []}, "mark": "point", "view": {"stroke": null}},
   {"spacing": 3, "hconcat": [
   {"title": {"text": "E", "anchor": "start", "fontSize": 19, "fontWeight": "bold", "color": "#000", "offset": 2, "dx": -22.5},
    "spacing": 3.5,
    "hconcat": [
     {"width": 109, "height": 257, "title": {"text": "P = 0.160", "offset": 6}, "data": {"name": "e1"},
      "layer": [
       {"mark": {"type": "boxplot", "extent": 1.5, "outliers": false, "ticks": false, "size": 42.5, "box": {"fill": "white", "stroke": "#333", "strokeWidth": 1.2}, "median": {"color": "#333", "thickness": 1.3}, "rule": {"color": "#333", "strokeWidth": 1.2}},
        "encoding": {"x": {"field": "g", "type": "nominal", "scale": {"domain": ["LB","FL"], "paddingInner": 0, "paddingOuter": 0.1}, "axis": {"title": null, "labelAngle": 0, "labelFontSize": 16, "labelPadding": 4}},
                     "y": {"field": "v", "type": "quantitative", "scale": {"domain": [907.6, 1406.5], "nice": false, "zero": false}, "axis": {"title": "Number of genera per sample", "titleFontSize": 18.4, "values": [1000,1200,1400], "format": "d", "minExtent": 31.5, "maxExtent": 31.5}}}},
       {"mark": {"type": "point", "filled": true, "size": 100, "opacity": 1, "stroke": "#1a1a1a", "strokeWidth": 1},
        "encoding": {"x": {"field": "g", "type": "nominal", "scale": {"domain": ["LB","FL"], "paddingInner": 0, "paddingOuter": 0.1}},
                     "xOffset": {"field": "s", "type": "ordinal", "scale": {"paddingInner": 0, "paddingOuter": 8}},
                     "y": {"field": "v", "type": "quantitative", "scale": {"domain": [907.6, 1406.5], "nice": false, "zero": false}},
                     "fill": {"field": "g", "type": "nominal", "scale": {"domain": ["LB","FL"], "range": ["#DAA520","#ADD8E6"]}}}}
      ]},
     {"width": 109, "height": 257, "title": {"text": "P = 0.160", "offset": 6}, "data": {"name": "e2"},
      "layer": [
       {"mark": {"type": "boxplot", "extent": 1.5, "outliers": false, "ticks": false, "size": 42.5, "box": {"fill": "white", "stroke": "#333", "strokeWidth": 1.2}, "median": {"color": "#333", "thickness": 1.3}, "rule": {"color": "#333", "strokeWidth": 1.2}},
        "encoding": {"x": {"field": "g", "type": "nominal", "scale": {"domain": ["LB","FL"], "paddingInner": 0, "paddingOuter": 0.1}, "axis": {"title": null, "labelAngle": 0, "labelFontSize": 16, "labelPadding": 4}},
                     "y": {"field": "v", "type": "quantitative", "scale": {"domain": [2.1425, 3.025], "nice": false, "zero": false}, "axis": {"title": "Alpha diversity at genus level", "titleFontSize": 18.4, "values": [2.25,2.5,2.75,3.0], "format": ".2f", "minExtent": 33.5, "maxExtent": 33.5}}}},
       {"mark": {"type": "point", "filled": true, "size": 100, "opacity": 1, "stroke": "#1a1a1a", "strokeWidth": 1},
        "encoding": {"x": {"field": "g", "type": "nominal", "scale": {"domain": ["LB","FL"], "paddingInner": 0, "paddingOuter": 0.1}},
                     "xOffset": {"field": "s", "type": "ordinal", "scale": {"paddingInner": 0, "paddingOuter": 8}},
                     "y": {"field": "v", "type": "quantitative", "scale": {"domain": [2.1425, 3.025], "nice": false, "zero": false}},
                     "fill": {"field": "g", "type": "nominal", "scale": {"domain": ["LB","FL"], "range": ["#DAA520","#ADD8E6"]}}}}
      ]},
     {"spacing": 9, "bounds": "flush", "vconcat": [
      {"width": 10, "height": 1, "data": {"values": []}, "mark": "point", "view": {"stroke": null}},
      {"width": 209, "height": 202, "title": {"text": "Beta diversity at genus level", "fontSize": 18.7, "offset": 12, "dx": -2.5},
       "layer": [
        {"data": {"name": "e3e"}, "transform": [{"filter": "datum.g == 'FL'"}],
         "mark": {"type": "point", "shape": "M-1,0A1,0.725,0,1,0,1,0A1,0.725,0,1,0,-1,0Z", "size": 30276, "angle": 23.5, "filled": true, "opacity": 0.3, "strokeWidth": 0},
         "encoding": {"x": {"field": "x", "type": "quantitative", "scale": {"domain": [-0.3838, 0.369], "nice": false, "zero": false}},
                      "y": {"field": "y", "type": "quantitative", "scale": {"domain": [-0.2516, 0.2862], "nice": false, "zero": false}},
                      "color": {"field": "g", "type": "nominal", "sort": "descending", "scale": {"range": ["#DAA520","#ADD8E6"]}}}},
        {"data": {"name": "e3e"}, "transform": [{"filter": "datum.g == 'LB'"}],
         "mark": {"type": "point", "shape": "M-1,0A1,0.608,0,1,0,1,0A1,0.608,0,1,0,-1,0Z", "size": 43514, "angle": 41, "filled": true, "opacity": 0.3, "strokeWidth": 0},
         "encoding": {"x": {"field": "x", "type": "quantitative", "scale": {"domain": [-0.3838, 0.369], "nice": false, "zero": false}},
                      "y": {"field": "y", "type": "quantitative", "scale": {"domain": [-0.2516, 0.2862], "nice": false, "zero": false}},
                      "color": {"field": "g", "type": "nominal", "sort": "descending", "scale": {"range": ["#DAA520","#ADD8E6"]}}}},
        {"data": {"values": [{}]}, "mark": {"type": "rule", "strokeDash": [4,3], "color": "#222", "strokeWidth": 1},
         "encoding": {"x": {"datum": 0, "type": "quantitative", "scale": {"domain": [-0.3838, 0.369], "nice": false, "zero": false}}}},
        {"data": {"values": [{}]}, "mark": {"type": "rule", "strokeDash": [4,3], "color": "#222", "strokeWidth": 1},
         "encoding": {"y": {"datum": 0, "type": "quantitative", "scale": {"domain": [-0.2516, 0.2862], "nice": false, "zero": false}}}},
        {"data": {"name": "e3"}, "mark": {"type": "point", "filled": true, "size": 100, "opacity": 1, "stroke": "#1a1a1a", "strokeWidth": 1},
         "encoding": {"x": {"field": "x", "type": "quantitative", "scale": {"domain": [-0.3838, 0.369], "nice": false, "zero": false}, "axis": {"title": "PCoA1 21.95%", "titleFontSize": 16.5, "titlePadding": 5, "labelPadding": 5, "values": [-0.2, 0, 0.2], "format": ".1f"}},
                      "y": {"field": "y", "type": "quantitative", "scale": {"domain": [-0.2516, 0.2862], "nice": false, "zero": false}, "axis": {"title": "PCoA2 14.66%", "titleFontSize": 16.5, "labelPadding": 4, "values": [-0.2, -0.1, 0, 0.1, 0.2], "format": ".1f", "minExtent": 30, "maxExtent": 30}},
                      "fill": {"field": "g", "type": "nominal", "scale": {"domain": ["LB","FL"], "range": ["#DAA520","#ADD8E6"]}}}},
        {"data": {"values": [{}]}, "mark": {"type": "text", "text": "P", "fontStyle": "italic", "fontSize": 16, "align": "left", "baseline": "middle", "color": "#111"},
         "encoding": {"x": {"datum": -0.3395, "type": "quantitative"}, "y": {"datum": 0.2444, "type": "quantitative"}}},
        {"data": {"values": [{}]}, "mark": {"type": "text", "text": "= 0.986", "fontSize": 16, "align": "left", "baseline": "middle", "color": "#111", "dx": 15},
         "encoding": {"x": {"datum": -0.3395, "type": "quantitative"}, "y": {"datum": 0.2444, "type": "quantitative"}}}
       ]}
     ]}
    ]},
   {"title": {"text": "F", "anchor": "start", "fontSize": 19, "fontWeight": "bold", "color": "#000", "offset": 2, "dx": -4},
    "spacing": 5,
    "hconcat": [
     {"width": 109, "height": 257, "title": {"text": "P = 0.106", "offset": 6}, "data": {"name": "f1"},
      "layer": [
       {"mark": {"type": "boxplot", "extent": 1.5, "outliers": false, "ticks": false, "size": 42.5, "box": {"fill": "white", "stroke": "#333", "strokeWidth": 1.2}, "median": {"color": "#333", "thickness": 1.3}, "rule": {"color": "#333", "strokeWidth": 1.2}},
        "encoding": {"x": {"field": "g", "type": "nominal", "scale": {"domain": ["LB","FL"], "paddingInner": 0, "paddingOuter": 0.1}, "axis": {"title": null, "labelAngle": 0, "labelFontSize": 16, "labelPadding": 4}},
                     "y": {"field": "v", "type": "quantitative", "scale": {"domain": [3328, 5395], "nice": false, "zero": false}, "axis": {"title": "Number of species per sample", "titleFontSize": 18.4, "values": [4000,5000], "format": "d", "minExtent": 44.5, "maxExtent": 44.5}}}},
       {"mark": {"type": "point", "filled": true, "size": 100, "opacity": 1, "stroke": "#1a1a1a", "strokeWidth": 1},
        "encoding": {"x": {"field": "g", "type": "nominal", "scale": {"domain": ["LB","FL"], "paddingInner": 0, "paddingOuter": 0.1}},
                     "xOffset": {"field": "s", "type": "ordinal", "scale": {"paddingInner": 0, "paddingOuter": 8}},
                     "y": {"field": "v", "type": "quantitative", "scale": {"domain": [3328, 5395], "nice": false, "zero": false}},
                     "fill": {"field": "g", "type": "nominal", "scale": {"domain": ["LB","FL"], "range": ["#DAA520","#ADD8E6"]}}}}
      ]},
     {"width": 109, "height": 257, "title": {"text": "P = 0.846", "offset": 6}, "data": {"name": "f2"},
      "layer": [
       {"mark": {"type": "boxplot", "extent": 1.5, "outliers": false, "ticks": false, "size": 42.5, "box": {"fill": "white", "stroke": "#333", "strokeWidth": 1.2}, "median": {"color": "#333", "thickness": 1.3}, "rule": {"color": "#333", "strokeWidth": 1.2}},
        "encoding": {"x": {"field": "g", "type": "nominal", "scale": {"domain": ["LB","FL"], "paddingInner": 0, "paddingOuter": 0.1}, "axis": {"title": null, "labelAngle": 0, "labelFontSize": 16, "labelPadding": 4}},
                     "y": {"field": "v", "type": "quantitative", "scale": {"domain": [2.952, 4.212], "nice": false, "zero": false}, "axis": {"title": "Alpha diversity at species level", "titleFontSize": 18.4, "values": [3.2,3.6,4.0], "format": ".1f", "minExtent": 28.3, "maxExtent": 28.3}}}},
       {"mark": {"type": "point", "filled": true, "size": 100, "opacity": 1, "stroke": "#1a1a1a", "strokeWidth": 1},
        "encoding": {"x": {"field": "g", "type": "nominal", "scale": {"domain": ["LB","FL"], "paddingInner": 0, "paddingOuter": 0.1}},
                     "xOffset": {"field": "s", "type": "ordinal", "scale": {"paddingInner": 0, "paddingOuter": 8}},
                     "y": {"field": "v", "type": "quantitative", "scale": {"domain": [2.952, 4.212], "nice": false, "zero": false}},
                     "fill": {"field": "g", "type": "nominal", "scale": {"domain": ["LB","FL"], "range": ["#DAA520","#ADD8E6"]}}}}
      ]},
     {"spacing": 13, "bounds": "flush", "vconcat": [
      {"width": 10, "height": 1, "data": {"values": []}, "mark": "point", "view": {"stroke": null}},
      {"width": 222, "height": 202, "title": {"text": "Beta diversity at species level", "fontSize": 18.7, "offset": 12, "dx": -17},
       "layer": [
        {"data": {"name": "f3e"}, "transform": [{"filter": "datum.g == 'FL'"}],
         "mark": {"type": "point", "shape": "M-1,0A1,0.807,0,1,0,1,0A1,0.807,0,1,0,-1,0Z", "size": 40642, "angle": 0, "filled": true, "opacity": 0.3, "strokeWidth": 0},
         "encoding": {"x": {"field": "x", "type": "quantitative", "scale": {"domain": [-0.32, 0.3508], "nice": false, "zero": false}},
                      "y": {"field": "y", "type": "quantitative", "scale": {"domain": [-0.2406, 0.2375], "nice": false, "zero": false}},
                      "color": {"field": "g", "type": "nominal", "sort": "descending", "scale": {"range": ["#DAA520","#ADD8E6"]}}}},
        {"data": {"name": "f3e"}, "transform": [{"filter": "datum.g == 'LB'"}],
         "mark": {"type": "point", "shape": "M-1,0A1,1,0,1,0,1,0A1,1,0,1,0,-1,0Z", "size": 28900, "angle": 0, "filled": true, "opacity": 0.3, "strokeWidth": 0},
         "encoding": {"x": {"field": "x", "type": "quantitative", "scale": {"domain": [-0.32, 0.3508], "nice": false, "zero": false}},
                      "y": {"field": "y", "type": "quantitative", "scale": {"domain": [-0.2406, 0.2375], "nice": false, "zero": false}},
                      "color": {"field": "g", "type": "nominal", "sort": "descending", "scale": {"range": ["#DAA520","#ADD8E6"]}}}},
        {"data": {"values": [{}]}, "mark": {"type": "rule", "strokeDash": [4,3], "color": "#222", "strokeWidth": 1},
         "encoding": {"x": {"datum": 0, "type": "quantitative", "scale": {"domain": [-0.32, 0.3508], "nice": false, "zero": false}}}},
        {"data": {"values": [{}]}, "mark": {"type": "rule", "strokeDash": [4,3], "color": "#222", "strokeWidth": 1},
         "encoding": {"y": {"datum": 0, "type": "quantitative", "scale": {"domain": [-0.2406, 0.2375], "nice": false, "zero": false}}}},
        {"data": {"name": "f3"}, "mark": {"type": "point", "filled": true, "size": 100, "opacity": 1, "stroke": "#1a1a1a", "strokeWidth": 1},
         "encoding": {"x": {"field": "x", "type": "quantitative", "scale": {"domain": [-0.32, 0.3508], "nice": false, "zero": false}, "axis": {"title": "PCoA1 28.61%", "titleFontSize": 16.5, "titlePadding": 5, "labelPadding": 5, "values": [-0.2, 0, 0.2], "format": ".1f"}},
                      "y": {"field": "y", "type": "quantitative", "scale": {"domain": [-0.2406, 0.2375], "nice": false, "zero": false}, "axis": {"title": "PCoA2 18.29%", "titleFontSize": 16.5, "labelPadding": 4, "values": [-0.2, -0.1, 0, 0.1, 0.2], "format": ".1f", "minExtent": 29.5, "maxExtent": 29.5}},
                      "fill": {"field": "g", "type": "nominal", "scale": {"domain": ["LB","FL"], "range": ["#DAA520","#ADD8E6"]}}}},
        {"data": {"values": [{}]}, "mark": {"type": "text", "text": "P", "fontStyle": "italic", "fontSize": 16, "align": "left", "baseline": "middle", "color": "#111"},
         "encoding": {"x": {"datum": -0.2782, "type": "quantitative"}, "y": {"datum": 0.1996, "type": "quantitative"}}},
        {"data": {"values": [{}]}, "mark": {"type": "text", "text": "= 0.818", "fontSize": 16, "align": "left", "baseline": "middle", "color": "#111", "dx": 15},
         "encoding": {"x": {"datum": -0.2782, "type": "quantitative"}, "y": {"datum": 0.1996, "type": "quantitative"}}}
       ]}
     ]}
    ]}
   ]}
  ]}
 ]}
]
}
